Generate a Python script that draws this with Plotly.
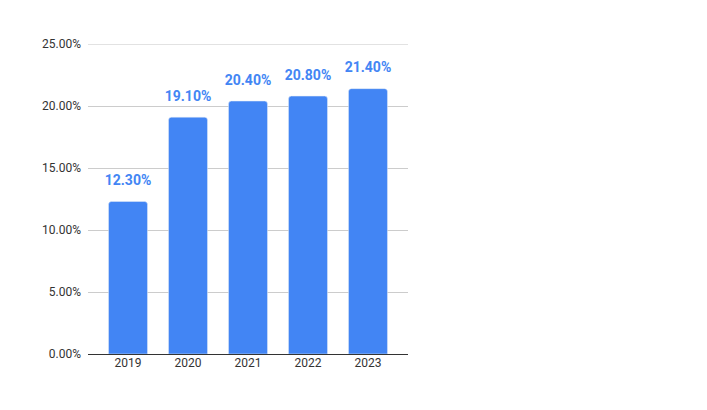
import plotly.graph_objects as go

years = ["2019", "2020", "2021", "2022", "2023"]
values = [0.123, 0.191, 0.204, 0.208, 0.214]
labels = ["12.30%", "19.10%", "20.40%", "20.80%", "21.40%"]
y_ticks = [0, 0.05, 0.10, 0.15, 0.20, 0.25]
y_tick_text = ["0.00%", "5.00%", "10.00%", "15.00%", "20.00%", "25.00%"]

fig = go.Figure()
fig.add_trace(go.Bar(
    x=years, y=values,
    marker=dict(color="#4285F4", cornerradius=3),
    width=0.65, hoverinfo="x+y",
))
fig.add_trace(go.Scatter(
    x=years, y=values, mode="markers+text",
    text=["<b>%s</b>" % s for s in labels], textposition="top center",
    marker=dict(size=19, color="rgba(0,0,0,0)"),
    textfont=dict(family="Roboto", size=14, color="#4285F4"),
    cliponaxis=False, hoverinfo="skip",
))
fig.add_shape(type="line", xref="paper", yref="y", x0=0, x1=1,
              y0=y_ticks[-1], y1=y_ticks[-1], line=dict(color="#c6c6c6", width=1),
              layer="below")
fig.update_layout(
    width=707, height=410,
    margin=dict(l=80, r=307, t=36, b=64),
    paper_bgcolor="white", plot_bgcolor="white",
    font=dict(family="Roboto", size=12, color="#333"),
    showlegend=False,
    xaxis=dict(type="category", range=[-0.667, 4.667], showgrid=False, ticks="",
               showline=False, tickfont=dict(color="#333", size=12)),
    yaxis=dict(range=[0, 0.25], tickvals=y_ticks, ticktext=y_tick_text,
               gridcolor="#cccccc", gridwidth=1, zeroline=True, zerolinecolor="#333",
               zerolinewidth=1, ticks="", ticklabelstandoff=6,
               tickfont=dict(color="#333", size=12)),
)
fig.write_html("out.html")
